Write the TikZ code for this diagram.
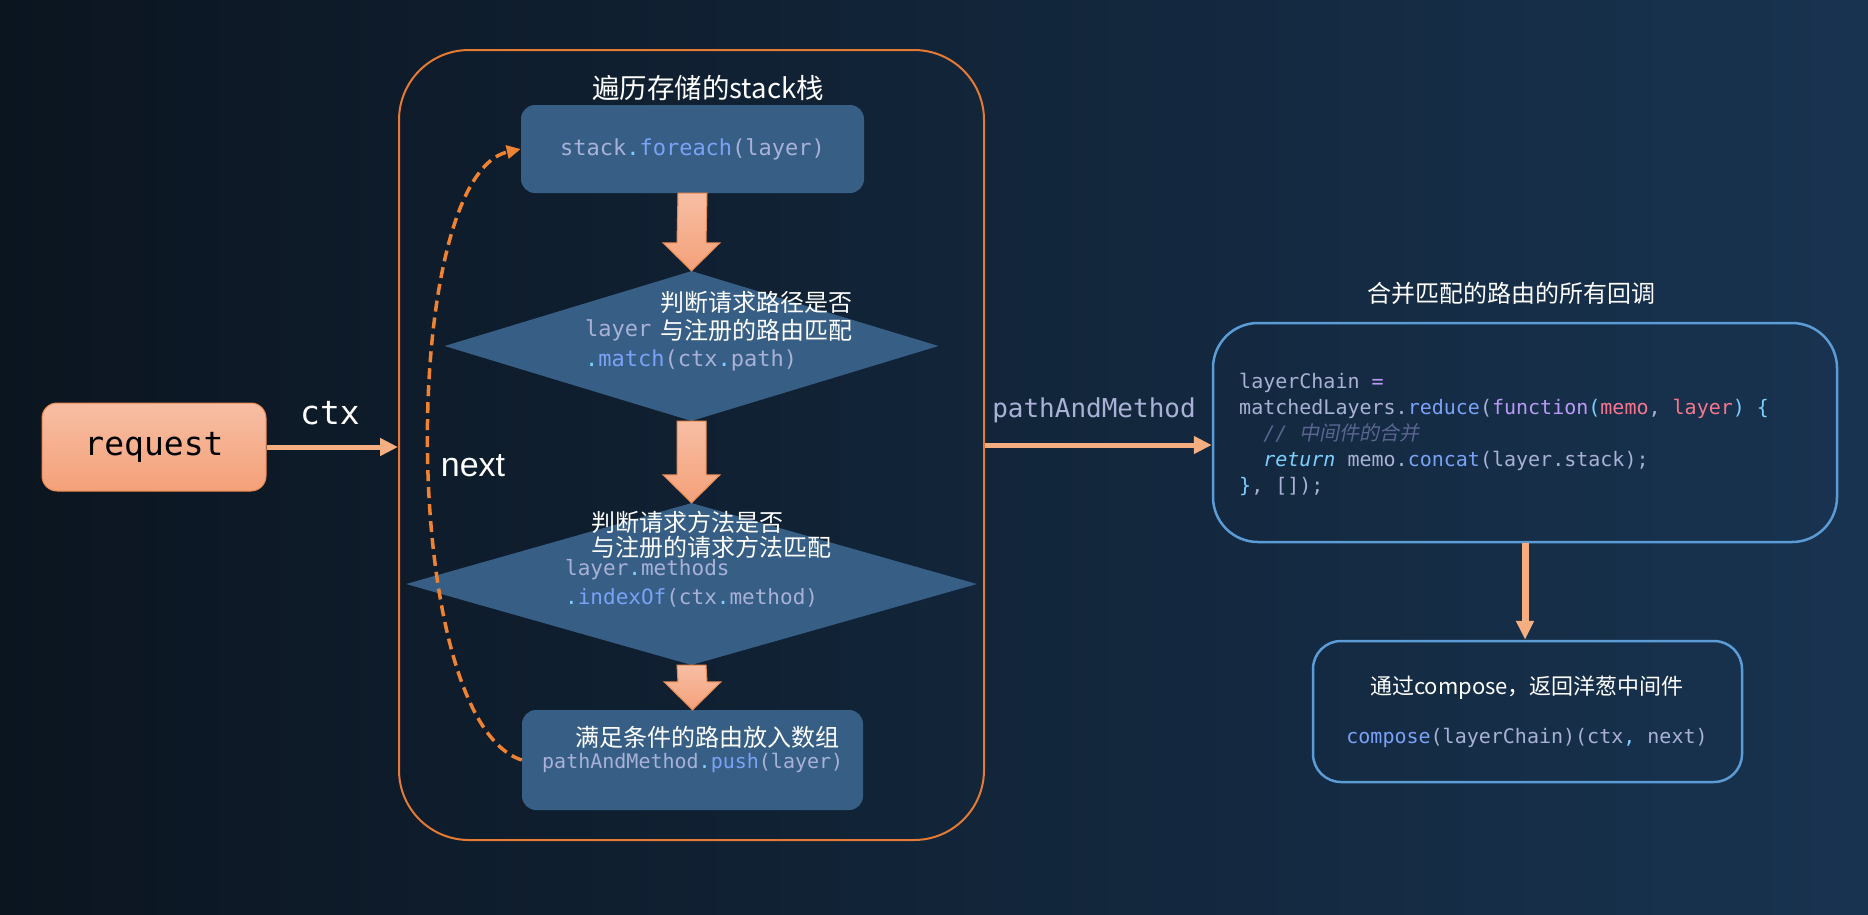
\documentclass[tikz,border=0pt]{standalone}
\usepackage{fontspec}
\usepackage{xcolor}
\setmainfont{Noto Sans CJK SC}
\newfontfamily\codefont{DejaVu Sans Mono}
\newfontfamily\cjkit{Noto Sans CJK SC}[FakeSlant=0.2]
\newfontfamily\labelfont{Liberation Sans}
\usetikzlibrary{shapes.geometric,arrows.meta,calc}

\definecolor{bgleft}{HTML}{0B1520}
\definecolor{bgright}{HTML}{183350}
\definecolor{boxblue}{HTML}{375F86}
\definecolor{frameorange}{HTML}{E57A34}
\definecolor{frameblue}{HTML}{5B9BD6}
\definecolor{peachtop}{HTML}{F7BEA4}
\definecolor{peachbot}{HTML}{F4A179}
\definecolor{peachline}{HTML}{EA8A4F}
\definecolor{linkorange}{HTML}{F4AE82}
\definecolor{dashorange}{HTML}{F08332}
\definecolor{codelav}{HTML}{A9B1D6}
\definecolor{codefn}{HTML}{7AA2F7}
\definecolor{codecyan}{HTML}{7DCFFF}
\definecolor{codepurple}{HTML}{BB9AF7}
\definecolor{codered}{HTML}{F7768E}
\definecolor{codecmt}{HTML}{5A6590}

\tikzset{
  cn/.style={text=white, inner sep=0pt, font=\fontsize{24}{28}\selectfont},
  code/.style={text=codelav, inner sep=0pt, font=\codefont\fontsize{21}{26}\selectfont},
  stepbox/.style={rectangle, rounded corners=14pt, fill=boxblue, inner sep=0pt},
  cond/.style={diamond, fill=boxblue, inner sep=0pt},
  blockarrow/.style={top color=peachtop, bottom color=peachbot, draw=peachline, line width=1pt},
  link/.style={draw=linkorange, line width=5pt, -{Triangle[length=18pt,width=17pt]}},
}

\begin{document}
\begin{tikzpicture}[x=1pt, y=-1pt]
  % background
  \shade[left color=bgleft, right color=bgright] (0,0) rectangle (1868,914);
  \useasboundingbox (0,0) rectangle (1868,914);

  % boxes
  \node[rectangle, rounded corners=15pt, top color=peachtop, bottom color=peachbot, draw=peachline, line width=1pt,
        minimum width=224pt, minimum height=88pt, font=\codefont\fontsize{33}{38}\selectfont] (request) at (154,447) {request};
  \node[draw=frameorange, line width=2pt, rounded corners=70pt, minimum width=585pt, minimum height=790pt] (loop) at (691.5,445) {};
  \node[stepbox, minimum width=343pt, minimum height=88pt] (foreach) at (692.5,149) {};
  \node[cond, minimum width=494pt, minimum height=150pt] (match) at (691.5,346) {};
  \node[cond, minimum width=571pt, minimum height=162pt] (method) at (691.5,584) {};
  \node[stepbox, minimum width=341pt, minimum height=100pt] (push) at (692.5,760) {};
  \node[draw=frameblue, line width=2.5pt, rounded corners=45pt, minimum width=624pt, minimum height=219pt] (chain) at (1525,432.5) {};
  \node[draw=frameblue, line width=2.5pt, rounded corners=28pt, minimum width=429pt, minimum height=141pt] (compose) at (1527.5,711.5) {};

  % block arrows
  \foreach \a/\b in {foreach/match, match/method, method/push}
    \draw[blockarrow] ($(\a.south)+(-14.5,0)$) -- ($(\b.north)+(-14.5,-28)$) -- ($(\b.north)+(-28.5,-28)$)
      -- (\b.north) -- ($(\b.north)+(28.5,-28)$) -- ($(\b.north)+(14.5,-28)$) -- ($(\a.south)+(14.5,0)$) -- cycle;

  % connectors
  \draw[link] (request.east) -- (request.east -| loop.west);
  \draw[link] (loop.east) -- (loop.east -| chain.west);
  \draw[draw=linkorange, line width=7pt, -{Triangle[length=19pt,width=17pt]}] (chain.south) -- (chain.south |- compose.north);
  \draw[dashorange, line width=3.5pt, dash pattern=on 11pt off 6pt, -{Triangle[length=14pt,width=13pt]}]
    (push.west) .. controls +(-124,-40) and +(-122,27) .. (foreach.west);

  % labels
  \node[text=white, inner sep=0pt, font=\codefont\fontsize{33}{38}\selectfont] (ctxlabel) at (330,413) {ctx};
  \node[text=codelav, inner sep=0pt, font=\codefont\fontsize{26}{30}\selectfont] (pamlabel) at (1094,410) {pathAndMethod};
  \node[text=white, inner sep=0pt, font=\labelfont\fontsize{34}{40}\selectfont] (nextlabel) at (473,466) {next};
  \node[cn, font=\fontsize{27.5}{32}\selectfont] (looptitle) at (708,88) {遍历存储的stack栈};
  \node[cn] (chaintitle) at (1511,293) {合并匹配的路由的所有回调};

  % texts in the loop
  \node[code, font=\codefont\fontsize{22}{26}\selectfont] (foreachtext) at (foreach) {stack\textcolor{codecyan}{.}\textcolor{codefn}{foreach}(layer)};
  \node[cn, anchor=west] (matchq1) at (660,302) {判断请求路径是否};
  \node[cn, anchor=west] (matchq2) at (660,330) {与注册的路由匹配};
  \node[code, anchor=west, font=\codefont\fontsize{22}{26}\selectfont] (matchc1) at (585,330) {layer};
  \node[code, anchor=west, font=\codefont\fontsize{22}{26}\selectfont] (matchc2) at (585,360)
    {\textcolor{codecyan}{.}\textcolor{codefn}{match}(ctx\textcolor{codecyan}{.}path)};
  \node[cn, anchor=west] (methodq1) at (591,522) {判断请求方法是否};
  \node[cn, anchor=west] (methodq2) at (591,547) {与注册的请求方法匹配};
  \node[code, anchor=west] (methodc1) at (565,570) {layer\textcolor{codecyan}{.}methods};
  \node[code, anchor=west] (methodc2) at (565,598)
    {\textcolor{codecyan}{.}\textcolor{codefn}{indexOf}(ctx\textcolor{codecyan}{.}method)};
  \node[cn, anchor=west] (pushq) at (575,737) {满足条件的路由放入数组};
  \node[code, anchor=west, font=\codefont\fontsize{20}{26}\selectfont] (pushc) at (542,763)
    {pathAndMethod\textcolor{codecyan}{.}\textcolor{codefn}{push}(layer)};

  % texts on the right
  \node[code, anchor=west, align=left, font=\codefont\fontsize{20}{26}\selectfont] (chaincode) at (1239,434) {%
    layerChain \textcolor{codepurple}{=}\\
    matchedLayers.\textcolor{codefn}{reduce}(\textcolor{codepurple}{function}\textcolor{codecyan}{(}\textcolor{codered}{memo}, \textcolor{codered}{layer}\textcolor{codecyan}{)} \textcolor{codecyan}{\{}\\
    \phantom{xx}\textcolor{codecmt}{\itshape // \cjkit 中间件的合并}\\
    \phantom{xx}\textcolor{codecyan}{\itshape return} memo.\textcolor{codefn}{concat}(layer.stack);\\
    \textcolor{codecyan}{\}}, []);};
  \node[cn, font=\fontsize{22}{26}\selectfont] (composeq) at (1527,688) {通过compose，返回洋葱中间件};
  \node[code, font=\codefont\fontsize{20}{26}\selectfont] (composec) at (1527,738)
    {\textcolor{codefn}{compose}(layerChain)(ctx\textcolor{codecyan}{,} next)};
\end{tikzpicture}
\end{document}
